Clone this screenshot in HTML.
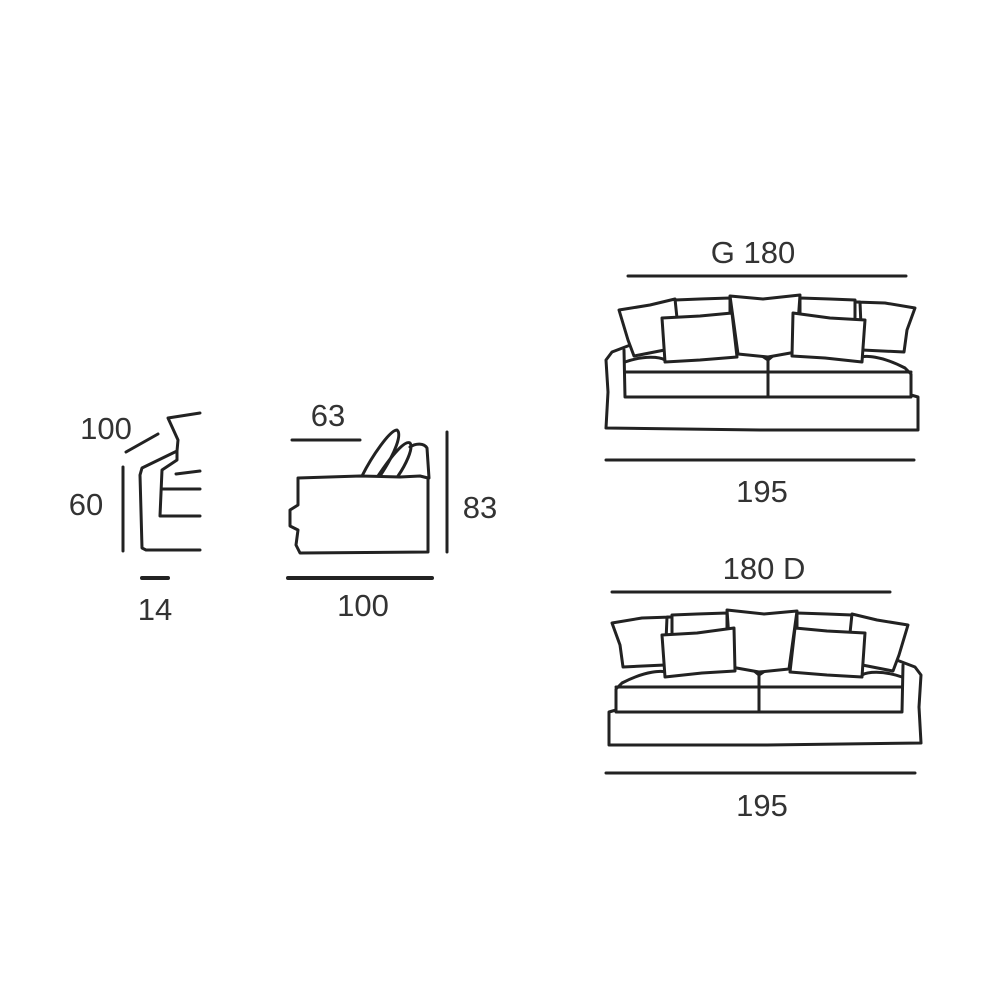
<!DOCTYPE html>
<html><head><style>
html,body{margin:0;padding:0;background:#fff;}
svg{display:block;}
text{font-family:"Liberation Sans",sans-serif;font-size:31px;fill:#333;text-anchor:middle;}
</style></head><body>
<svg width="1000" height="1000" viewBox="0 0 1000 1000" xmlns="http://www.w3.org/2000/svg">
<g fill="none" stroke="#222" stroke-width="3" stroke-linejoin="round" stroke-linecap="round">
<!-- left side view -->
<line x1="123" y1="467" x2="123" y2="551"/>
<line x1="126" y1="452" x2="158" y2="434"/>
<path d="M200 413 L168 418 L178 440 L177 451 L142 468 L140 475 L142 548 L146 550 L200 550"/>
<path d="M177 451 L177 460 L162 470 L160 516 L200 516"/>
<line x1="162" y1="489" x2="200" y2="489"/>
<path d="M176 474 L200 471"/>
<line x1="142" y1="578" x2="168" y2="578" stroke-width="4"/>
<!-- middle side view -->
<line x1="292" y1="440" x2="360" y2="440"/>
<path d="M362 476 C372 456 390 430 397 430 C402 434 396 452 380 476"/>
<path d="M378 476 C392 455 405 440 410 443 C414 448 405 466 398 476"/>
<path d="M298 478 L360 476 L400 477 L420 476 L428 478 L428 552 L300 553 L296 545 L298 530 L290 526 L290 510 L298 505 Z" fill="#fff"/>
<path d="M410 447 C416 443 424 443 427 448 L429 478"/>
<line x1="447" y1="432" x2="447" y2="552"/>
<line x1="288" y1="578" x2="432" y2="578" stroke-width="4"/>
<!-- top dims -->
<line x1="628" y1="276" x2="906" y2="276"/>
<line x1="606" y1="460" x2="914" y2="460"/>
<line x1="612" y1="592" x2="890" y2="592"/>
<line x1="606" y1="773" x2="915" y2="773"/>
<!-- sofa 1 -->
<g id="sofa">
<path d="M633 344 L612 352 L606 360 L608 392 L606 428 L760 430 L918 430 L918 397 L911 395"/>
<path d="M624 350 L625 397 L911 397 L911 374 L905 368 C880 355 865 356 862 357"/>
<path d="M625 372 L911 372"/>
<path d="M625 362 C645 355 660 357 665 360"/>
<line x1="768" y1="358" x2="768" y2="397"/>
<path d="M762 356 L768 360 L774 355"/>
<path d="M675 300 L700 299 L730 298 L730 330 L676 330 Z" fill="#fff"/>
<path d="M800 298 L830 299 L855 300 L855 330 L800 330 Z" fill="#fff"/>
<path d="M619 310 L650 305 L675 299 L680 347 L634 356 L628 340 Z" fill="#fff"/>
<path d="M855 302 L885 303 L915 308 L907 330 L904 352 L862 350 L860 302 Z" fill="#fff"/>
<path d="M730 296 L763 299 L800 295 L796 352 L768 357 L738 354 Z" fill="#fff"/>
<path d="M662 318 L700 316 L732 313 L737 357 L700 360 L665 362 Z" fill="#fff"/>
<path d="M793 313 L830 318 L865 320 L862 362 L825 358 L792 356 Z" fill="#fff"/>
</g>
<use href="#sofa" transform="translate(1527,315) scale(-1,1)"/>
</g>
<text x="106" y="439">100</text>
<text x="86" y="515">60</text>
<text x="155" y="620">14</text>
<text x="328" y="426">63</text>
<text x="363" y="616">100</text>
<text x="480" y="518">83</text>
<text x="753" y="263">G 180</text>
<text x="762" y="502">195</text>
<text x="764" y="579">180 D</text>
<text x="762" y="816">195</text>
</svg>
</body></html>
